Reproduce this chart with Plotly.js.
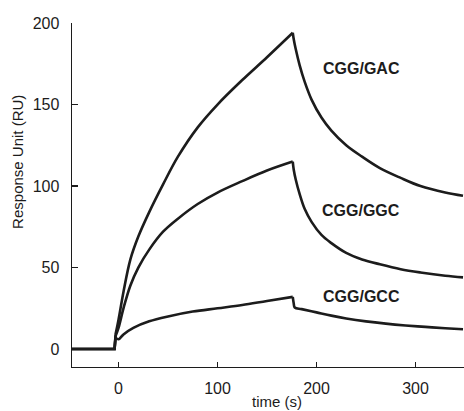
<!DOCTYPE html>
<html>
<head>
<meta charset="utf-8">
<script src="https://cdn.plot.ly/plotly-3.0.1.min.js"></script>
<style>html,body{margin:0;padding:0;background:#fff;}#chart{width:464px;height:411px;}</style>
</head>
<body>
<div id="chart"></div>
<script>
// Time (s) and response (RU)
const gacTime = [-47, -4, -3, 0, 5, 12, 20, 31, 45, 60, 80, 100, 125, 150, 176, 177, 179, 183, 188, 195, 205, 215, 230, 246, 264, 285, 305, 330, 348];
const gacRU   = [0, 0, 9, 18, 35, 55, 69, 84, 101, 118, 136, 150, 165, 179, 194, 190, 184, 174, 164, 153, 142, 134, 125, 118, 111, 105, 100, 96, 94];

const ggcTime = [-47, -4, -3, 0, 5, 12, 20, 31, 45, 60, 80, 100, 125, 150, 176, 177, 179, 183, 188, 195, 205, 215, 230, 246, 264, 285, 305, 330, 348];
const ggcRU   = [0, 0, 8, 13, 25, 39, 50, 61, 72, 80, 89, 96, 103, 109.5, 115, 110, 104, 95, 86, 78, 70, 65, 59, 55, 52, 49, 47, 45, 44];

const gccTime = [-47, -4, -3, 0, 5, 15, 31, 50, 75, 100, 125, 150, 176, 177, 178, 185, 200, 215, 230, 250, 270, 290, 310, 330, 348];
const gccRU   = [0, 0, 7, 6, 9, 13, 17, 20, 23, 25, 27, 29.5, 32, 28, 25.5, 24.5, 22.5, 20.5, 18.8, 17, 15.6, 14.5, 13.6, 12.8, 12.2];

const seriesNames = ["CGG/GAC", "CGG/GGC", "CGG/GCC"];
const labelX = [245, 245, 245];
const labelY = [172, 85, 32];
const xTicks = [0, 100, 200, 300];
const yTicks = [0, 50, 100, 150, 200];

const ink = "#1c1c1c";
const fam = "Liberation Sans, Arial, Helvetica, sans-serif";

const series = [[gacTime, gacRU], [ggcTime, ggcRU], [gccTime, gccRU]];
const traces = [];
series.forEach(([t, v], i) => {
  // baseline (linear), association and dissociation phases (smoothed), split at the injection start and end
  const start = t.indexOf(-3);
  const peak = v.indexOf(Math.max(...v));
  const parts = [[0, start, "linear"], [start, peak, "spline"], [peak, t.length - 1, "spline"]];
  parts.forEach(([a, b, shape]) => {
    traces.push({type: "scatter", mode: "lines", x: t.slice(a, b + 1), y: v.slice(a, b + 1),
      name: seriesNames[i], line: {color: ink, width: 2.6, shape: shape, smoothing: 1}, hoverinfo: "skip"});
  });
});

const annotations = seriesNames.map((n, i) => ({
  x: labelX[i], y: labelY[i], xref: "x", yref: "y", text: "<b>" + n + "</b>",
  showarrow: false, font: {family: fam, size: 16, color: ink}
}));
annotations.push({x: 0.523, y: -0.1, xref: "paper", yref: "paper", text: "time (s)", showarrow: false,
  font: {family: fam, size: 15, color: ink}, xanchor: "center", yanchor: "middle"});
annotations.push({x: -0.138, y: 0.596, xref: "paper", yref: "paper", text: "Response Unit (RU)", showarrow: false,
  textangle: -90, font: {family: fam, size: 15, color: ink}, xanchor: "center", yanchor: "middle"});

const layout = {
  width: 464, height: 411,
  margin: {l: 72, r: 0, t: 23, b: 44, pad: 0},
  paper_bgcolor: "#fff", plot_bgcolor: "#fff",
  showlegend: false,
  xaxis: {
    range: [-47, 349], tickvals: xTicks, ticks: "inside", ticklen: 5, tickwidth: 1.2, tickcolor: ink,
    showline: true, linecolor: ink, linewidth: 1.4, showgrid: false, zeroline: false,
    tickfont: {family: fam, size: 16, color: ink}, ticklabelstandoff: 6
  },
  yaxis: {
    range: [-11, 200], tickvals: yTicks, ticks: "inside", ticklen: 6, tickwidth: 1.2, tickcolor: ink,
    showline: true, linecolor: ink, linewidth: 1.4, showgrid: false, zeroline: false,
    tickfont: {family: fam, size: 16, color: ink}, ticklabelstandoff: 8
  },
  annotations: annotations
};

Plotly.newPlot("chart", traces, layout, {displayModeBar: false, staticPlot: true});
</script>
</body>
</html>
